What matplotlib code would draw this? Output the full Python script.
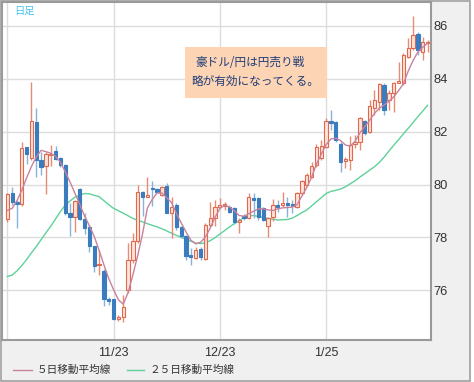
import matplotlib
matplotlib.use("Agg")
import matplotlib.pyplot as plt
from matplotlib.patches import Rectangle
from matplotlib.lines import Line2D
import numpy as np

# daily candles (AUD/JPY)
opens = [78.69, 79.67, 79.33, 79.26, 81.40, 80.99, 82.37, 80.92, 80.70, 81.10,
         81.28, 80.99, 80.74, 78.91, 78.76, 79.83, 78.69, 78.41, 77.69, 76.95,
         76.74, 75.68, 75.66, 74.91, 74.99, 76.02, 77.15, 77.88, 79.72, 79.54,
         79.86, 79.83, 79.60, 79.94, 78.94, 79.23, 78.38, 78.06, 77.34, 77.21,
         77.55, 77.18, 78.47, 78.72, 79.16, 79.19, 79.16, 79.10, 78.60, 78.82,
         78.72, 79.48, 79.50, 79.10, 78.43, 78.79, 79.23, 79.23, 79.29, 79.25,
         79.14, 79.69, 79.98, 80.30, 80.74, 80.99, 81.43, 82.40, 82.35, 81.53,
         80.90, 80.92, 81.53, 81.62, 82.41, 81.99, 82.87, 83.13, 83.75, 83.19,
         83.44, 83.84, 83.84, 84.82, 85.14, 85.68, 84.99, 85.33]
closes = [79.63, 79.33, 79.26, 81.36, 81.15, 82.40, 80.92, 80.67, 81.15, 81.15,
          80.98, 80.73, 78.91, 78.76, 79.38, 78.69, 78.34, 77.69, 76.93, 77.00,
          75.67, 75.62, 74.91, 75.00, 75.38, 77.15, 77.88, 79.72, 79.54, 79.62,
          79.82, 79.72, 79.92, 78.94, 79.14, 78.38, 78.06, 77.30, 77.28, 77.53,
          77.25, 78.47, 78.72, 79.16, 79.23, 79.25, 78.97, 78.60, 78.66, 78.74,
          79.54, 79.42, 78.79, 78.66, 78.72, 79.23, 79.16, 79.29, 79.22, 79.19,
          79.69, 80.14, 80.36, 80.71, 81.43, 81.47, 82.40, 82.33, 81.68, 80.86,
          80.96, 81.49, 81.62, 82.50, 81.93, 82.96, 83.19, 83.78, 82.81, 83.44,
          83.82, 83.91, 84.89, 85.14, 85.64, 85.08, 85.39, 85.38]
highs = [79.67, 79.89, 79.40, 81.59, 81.43, 83.86, 82.90, 81.24, 81.24, 81.49,
         81.46, 81.05, 80.76, 79.29, 79.42, 79.86, 78.91, 78.47, 77.69, 77.53,
         76.82, 75.77, 75.66, 75.09, 75.83, 77.78, 78.18, 79.97, 79.75, 80.30,
         80.15, 79.88, 79.95, 80.04, 79.54, 79.29, 78.43, 78.09, 77.59, 77.65,
         77.63, 78.53, 79.35, 79.42, 79.48, 79.35, 79.23, 79.16, 78.72, 78.90,
         79.69, 79.67, 79.54, 79.14, 78.79, 79.44, 79.42, 79.73, 79.54, 79.42,
         79.73, 80.17, 80.45, 80.86, 81.53, 81.68, 82.50, 82.81, 82.40, 81.62,
         81.05, 81.83, 81.87, 82.56, 82.43, 83.19, 83.57, 83.82, 83.82, 83.57,
         83.88, 84.64, 84.95, 85.52, 86.36, 85.77, 85.58, 85.45]
lows = [78.60, 79.23, 78.37, 79.19, 80.76, 80.92, 80.30, 80.36, 79.63, 80.70,
        80.92, 80.65, 78.85, 78.05, 78.22, 78.66, 78.15, 77.46, 76.69, 76.57,
        75.43, 75.47, 74.88, 74.86, 74.80, 75.89, 77.02, 77.78, 78.81, 79.54,
        79.20, 79.68, 79.55, 78.91, 77.97, 78.28, 77.97, 77.15, 76.96, 77.18,
        77.15, 77.15, 78.41, 78.43, 79.14, 79.04, 78.91, 78.51, 78.16, 78.65,
        78.69, 78.72, 78.66, 78.64, 78.03, 78.64, 78.97, 79.16, 78.79, 78.91,
        79.10, 79.60, 79.95, 80.23, 80.67, 80.92, 81.36, 82.06, 81.62, 80.48,
        80.61, 80.55, 81.36, 81.30, 81.87, 81.93, 82.62, 82.81, 82.62, 82.81,
        82.75, 83.82, 83.75, 84.76, 85.08, 84.89, 84.70, 85.01]

# moving averages as drawn
ma5 = [79.02, 79.10, 79.39, 79.78, 80.25, 80.68, 81.04, 81.29, 81.24, 81.18,
       81.06, 80.84, 80.48, 80.09, 79.67, 79.25, 78.81, 78.44, 78.04, 77.52,
       76.97, 76.45, 76.03, 75.65, 75.48, 75.92, 76.59, 77.32, 78.14, 79.11,
       79.44, 79.68, 79.68, 79.50, 79.32, 78.91, 78.55, 78.21, 77.90, 77.76,
       77.82, 78.01, 78.35, 78.76, 79.09, 79.22, 79.15, 79.01, 78.83, 78.80,
       78.90, 78.99, 79.08, 79.08, 79.04, 79.02, 79.08, 79.12, 79.13, 79.15,
       79.24, 79.57, 79.89, 80.27, 80.77, 81.14, 81.51, 81.72, 81.75, 81.66,
       81.49, 81.45, 81.63, 81.95, 82.18, 82.42, 82.68, 82.88, 83.00, 83.14,
       83.31, 83.54, 83.81, 84.28, 84.68, 85.00, 85.18, 85.33]
ma25 = [76.53, 76.58, 76.74, 76.94, 77.17, 77.42, 77.66, 77.92, 78.18, 78.43,
        78.70, 78.98, 79.22, 79.38, 79.52, 79.60, 79.66, 79.65, 79.59, 79.54,
        79.39, 79.24, 79.10, 79.01, 78.92, 78.82, 78.72, 78.65, 78.59, 78.52,
        78.46, 78.40, 78.33, 78.25, 78.16, 78.08, 78.01, 77.93, 77.86, 77.79,
        77.77, 77.80, 77.88, 77.99, 78.13, 78.26, 78.40, 78.52, 78.63, 78.75,
        78.82, 78.83, 78.79, 78.75, 78.72, 78.69, 78.66, 78.67, 78.68, 78.73,
        78.83, 78.94, 79.04, 79.19, 79.35, 79.50, 79.66, 79.74, 79.78, 79.83,
        79.91, 80.03, 80.14, 80.28, 80.41, 80.54, 80.67, 80.83, 81.03, 81.26,
        81.48, 81.69, 81.91, 82.12, 82.34, 82.56, 82.77, 82.99]

tick_pos = [0, 22, 44, 66]
tick_labels = ["", "11/23", "12/23", "1/25"]

plt.rcParams["font.family"] = ["Noto Sans CJK JP", "DejaVu Sans"]

W, H = 474, 382
fig = plt.figure(figsize=(W / 100, H / 100), dpi=100)
fig.patch.set_facecolor("white")
fig.patches.append(Rectangle((0.5 / W, 1.5 / H), 469.5 / W, 380 / H,
                             transform=fig.transFigure, facecolor="#f0f0f0",
                             edgecolor="#a0a0a0", lw=1.2, zorder=-10))

ax = fig.add_axes([2 / W, 42 / H, 429 / W, 338 / H])
ax.set_zorder(1)
ax.set_facecolor("white")

x = np.arange(len(closes))
o = np.array(opens)
c = np.array(closes)
up = c >= o

# wicks
ax.vlines(x[up], np.array(lows)[up], np.array(highs)[up], color="#e88a74", lw=1.0, zorder=3)
ax.vlines(x[~up], np.array(lows)[~up], np.array(highs)[~up], color="#86b3dc", lw=1.0, zorder=3)
# bodies
ax.bar(x[up], (c - o)[up], bottom=o[up], width=0.68, color="#fde3da",
       edgecolor="#e2684c", lw=0.8, zorder=4)
ax.bar(x[~up], (c - o)[~up], bottom=o[~up], width=0.68, color="#3b7cbf",
       edgecolor="#3b7cbf", lw=0.8, zorder=4)

ax.plot(x, ma5, color="#c9829e", lw=1.0, zorder=5)
ax.plot(x, ma25, color="#5fd19a", lw=1.0, zorder=2)

ax.set_xlim(-1.1, 87.72)
ax.set_ylim(74.13, 86.89)
ax.set_yticks([76, 78, 80, 82, 84, 86])
ax.yaxis.tick_right()
ax.set_xticks(tick_pos, tick_labels)
ax.grid(True, color="#dcdcdc", lw=1.0, zorder=0)
ax.set_axisbelow(True)
ax.tick_params(axis="y", length=0, pad=2, labelsize=9.3, labelcolor="#333333")
ax.tick_params(axis="x", length=0, pad=5, labelsize=9.0, labelcolor="#333333")
for lab in ax.get_yticklabels() + ax.get_xticklabels():
    lab.set_family(["Liberation Sans", "DejaVu Sans"])
for s in ax.spines.values():
    s.set_color("#9a9a9a")
    s.set_linewidth(1.5)

# comment box
ax.add_patch(Rectangle((185 / W, 1 - 98 / H), 142 / W, 51 / H,
                       transform=fig.transFigure, facecolor="#fdd5b5",
                       edgecolor="none", zorder=6, clip_on=False))
ax.text(195 / W, 1 - 62.5 / H, "豪ドル/円は円売り戦", ha="left", va="center",
        fontsize=8.4, color="#1f3c78", zorder=7, transform=fig.transFigure)
ax.text(191.5 / W, 1 - 81 / H, "略が有効になってくる。", ha="left", va="center",
        fontsize=8.4, color="#1f3c78", zorder=7, transform=fig.transFigure)

ax.text(14 / W, 1 - 11 / H, "日足", ha="left", va="center", fontsize=7.4,
        color="#45c3ef", transform=fig.transFigure, zorder=7)

# legend
ly = 1 - 370 / H
fig.add_artist(Line2D([13 / W, 32 / W], [ly, ly], color="#c9829e", lw=1.0))
fig.text(37 / W, ly, "５日移動平均線", ha="left", va="center", fontsize=7.7,
         color="#333333")
fig.add_artist(Line2D([127 / W, 144 / W], [ly, ly], color="#5fd19a", lw=1.0))
fig.text(150 / W, ly, "２５日移動平均線", ha="left", va="center", fontsize=7.7,
         color="#333333")

fig.savefig("out.png", dpi=100)
